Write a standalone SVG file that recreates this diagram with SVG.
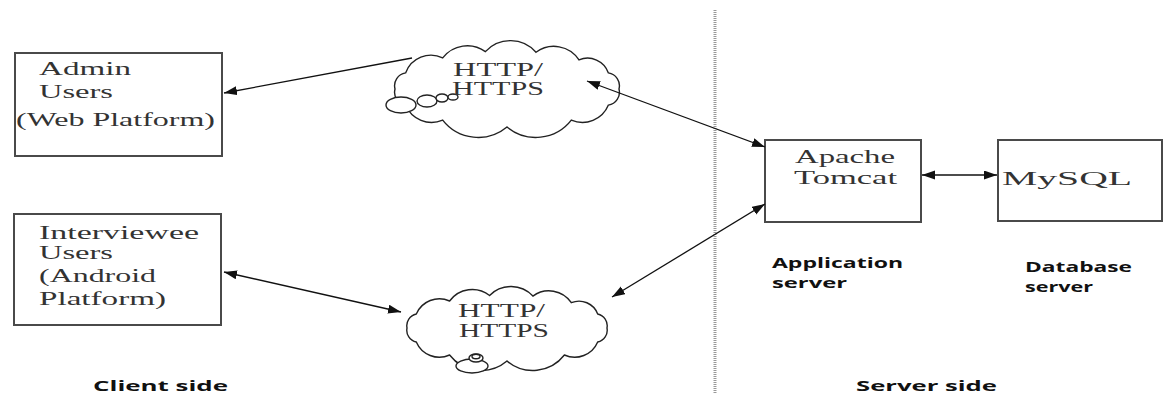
<svg xmlns="http://www.w3.org/2000/svg" width="1165" height="394" viewBox="0 0 1165 394">
<style>
.box{fill:#fff;stroke:#4a4a4a;stroke-width:2}
.cloud{fill:#fff;stroke:#222;stroke-width:1.4}
.ser{font-family:"Liberation Serif","Times New Roman",serif;font-size:19px;fill:#333}
.lbl{font-family:"Open Sans","Liberation Sans",Arial,sans-serif;font-weight:bold;font-size:14px;fill:#111}
.con{fill:none;stroke:#111;stroke-width:1.3}
</style>
<defs>
<marker id="ah" markerUnits="userSpaceOnUse" markerWidth="14" markerHeight="10" refX="13" refY="4.5" orient="auto-start-reverse" viewBox="0 0 14 10">
<path d="M0,0 L13,4.5 L0,9 z" fill="#111"/>
</marker>
</defs>
<rect width="1165" height="394" fill="#fff"/>
<line x1="715" y1="10" x2="715" y2="394" stroke="#999" stroke-width="3" stroke-dasharray="1 1"/>

<g id="admin">
<rect class="box" x="15" y="53" width="207" height="103"/>
<text class="ser" x="39" y="75" textLength="92" lengthAdjust="spacingAndGlyphs">Admin</text>
<text class="ser" x="39" y="98" textLength="74" lengthAdjust="spacingAndGlyphs">Users</text>
<text class="ser" x="16" y="126" textLength="199" lengthAdjust="spacingAndGlyphs">(Web Platform)</text>
</g>

<g id="interviewee">
<rect class="box" x="14" y="214" width="207" height="111"/>
<text class="ser" x="39" y="239" font-size="20" textLength="160" lengthAdjust="spacingAndGlyphs">Interviewee</text>
<text class="ser" x="39" y="259" font-size="20" textLength="74" lengthAdjust="spacingAndGlyphs">Users</text>
<text class="ser" x="39" y="282" font-size="20" textLength="117" lengthAdjust="spacingAndGlyphs">(Android</text>
<text class="ser" x="39" y="305" font-size="20" textLength="127" lengthAdjust="spacingAndGlyphs">Platform)</text>
</g>

<g id="cloud1">
<path class="cloud" d="M395,89 A13,13 0 0 1 405.6,72.9 A27,27 0 0 1 442.7,57.9 A31,31 0 0 1 485.4,51.6 A34,34 0 0 1 536,52.3 A30,30 0 0 1 579,59.9 A22,22 0 0 1 608.4,72.9 A13,13 0 0 1 619,89 A13,13 0 0 1 608.4,105.1 A28,28 0 0 1 571.3,120.1 A45,45 0 0 1 507,127 A45,45 0 0 1 442.7,120.1 A28,28 0 0 1 405.6,105.1 A13,13 0 0 1 395,89 z"/>
<ellipse class="cloud" cx="401" cy="105" rx="15" ry="8"/>
<ellipse class="cloud" cx="427" cy="101" rx="10" ry="6"/>
<ellipse class="cloud" cx="442" cy="98" rx="6" ry="4"/>
<ellipse class="cloud" cx="453" cy="97" rx="5" ry="3"/>
<text class="ser" x="453" y="76" textLength="90" lengthAdjust="spacingAndGlyphs">HTTP/</text>
<text class="ser" x="452" y="95" textLength="92" lengthAdjust="spacingAndGlyphs">HTTPS</text>
</g>

<g id="cloud2">
<path class="cloud" d="M407,328 A12,12 0 0 1 416.3,314 A25,25 0 0 1 449.6,301 A28,28 0 0 1 489.6,295.5 A30,30 0 0 1 532.9,296.1 A27,27 0 0 1 571.3,302.7 A20,20 0 0 1 597.7,314 A12,12 0 0 1 607,328 A12,12 0 0 1 597.7,342 A25,25 0 0 1 564.4,355 A40,40 0 0 1 507,361 A40,40 0 0 1 449.6,355 A25,25 0 0 1 416.3,342 A12,12 0 0 1 407,328 z"/>
<ellipse class="cloud" cx="472" cy="366" rx="16" ry="7"/>
<ellipse class="cloud" cx="476" cy="358" rx="7" ry="4"/>
<ellipse class="cloud" cx="476" cy="356.5" rx="4" ry="2.2"/>
<text class="ser" x="458" y="317" textLength="87" lengthAdjust="spacingAndGlyphs">HTTP/</text>
<text class="ser" x="459" y="337" textLength="90" lengthAdjust="spacingAndGlyphs">HTTPS</text>
</g>

<g id="tomcat">
<rect class="box" x="765" y="140" width="156" height="82"/>
<text class="ser" x="795" y="163" textLength="100" lengthAdjust="spacingAndGlyphs">Apache</text>
<text class="ser" x="794" y="184" textLength="103" lengthAdjust="spacingAndGlyphs">Tomcat</text>
<text class="lbl" x="772" y="268" textLength="131" lengthAdjust="spacingAndGlyphs">Application</text>
<text class="lbl" x="772" y="288" textLength="75" lengthAdjust="spacingAndGlyphs">server</text>
</g>

<g id="mysql">
<rect class="box" x="998" y="140" width="164" height="81"/>
<text class="ser" x="1002" y="185" textLength="130" lengthAdjust="spacingAndGlyphs">MySQL</text>
<text class="lbl" x="1025" y="272" textLength="107" lengthAdjust="spacingAndGlyphs">Database</text>
<text class="lbl" x="1025" y="292" textLength="68" lengthAdjust="spacingAndGlyphs">server</text>
</g>

<g id="sides">
<text class="lbl" x="93" y="391" font-size="15" textLength="135" lengthAdjust="spacingAndGlyphs">Client side</text>
<text class="lbl" x="856" y="391" font-size="15" textLength="141" lengthAdjust="spacingAndGlyphs">Server side</text>
</g>

<g id="connectors">
<line class="con" x1="412" y1="58" x2="224" y2="93" marker-end="url(#ah)"/>
<line class="con" x1="587" y1="81" x2="765" y2="147" marker-start="url(#ah)" marker-end="url(#ah)"/>
<line class="con" x1="224" y1="272" x2="401" y2="312" marker-start="url(#ah)" marker-end="url(#ah)"/>
<line class="con" x1="612" y1="297" x2="765" y2="204" marker-start="url(#ah)" marker-end="url(#ah)"/>
<line class="con" x1="922" y1="175" x2="997" y2="175" marker-start="url(#ah)" marker-end="url(#ah)"/>
</g>
</svg>
